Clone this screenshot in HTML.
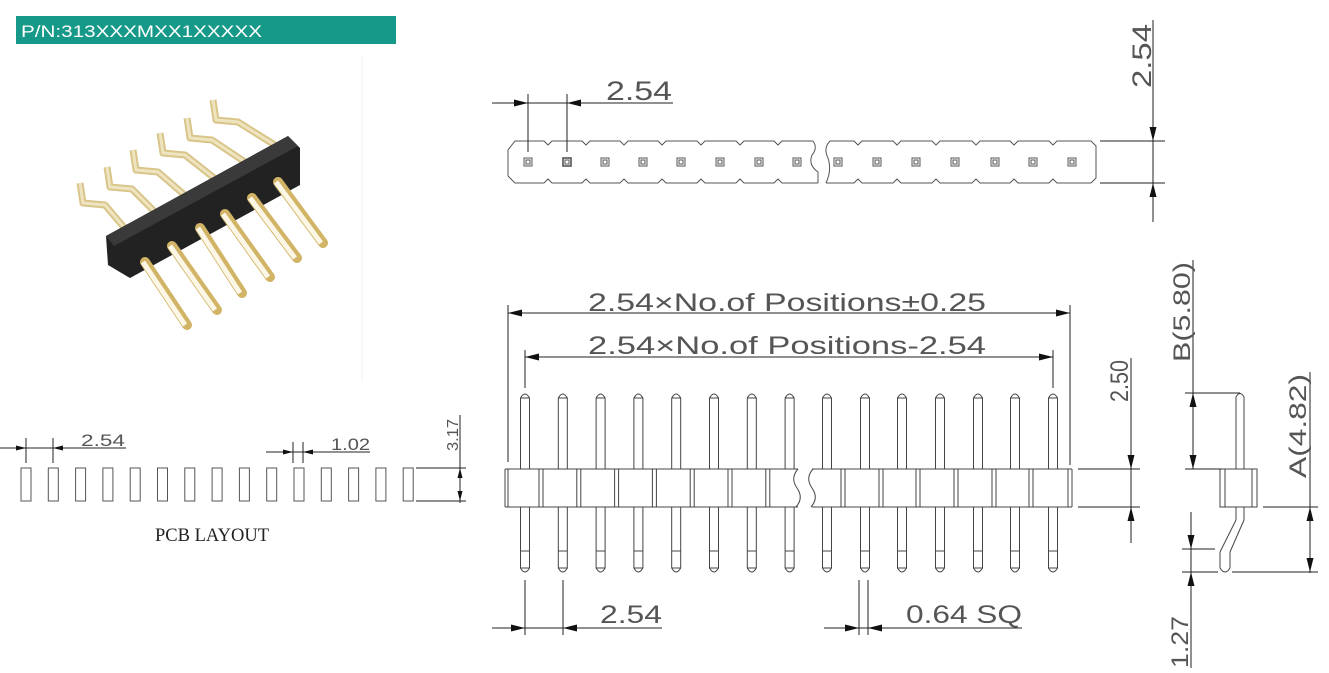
<!DOCTYPE html>
<html><head><meta charset="utf-8"><style>
html,body{margin:0;padding:0;background:#fff;width:1329px;height:673px;overflow:hidden}
svg{display:block}
.t{font-family:"Liberation Sans",sans-serif;fill:#555;font-weight:normal}
</style></head><body>
<svg id="s" width="1329" height="673" viewBox="0 0 1329 673" xmlns="http://www.w3.org/2000/svg">
<rect x="16" y="16" width="380" height="28" fill="#17998a"/>
<text x="21" y="37" font-family="Liberation Sans,sans-serif" font-size="17" fill="#fff" textLength="241" lengthAdjust="spacingAndGlyphs">P/N:313XXXMXX1XXXXX</text>
<line x1="362" y1="55" x2="362" y2="380" stroke="#f0f0f0"/>
<g id="photo"></g>
<g id="top" fill="none" stroke="#555" stroke-width="1"></g>
<g id="front" fill="none" stroke="#444" stroke-width="1"></g>
<g id="pcb" fill="none" stroke="#555" stroke-width="1"></g>
<g id="dims" stroke="#222" stroke-width="1" fill="#111"></g>
<text class="t" x="606" y="100" font-size="27" textLength="66" lengthAdjust="spacingAndGlyphs">2.54</text>
<text class="t" transform="translate(1151,88) rotate(-90)" font-size="27" textLength="64" lengthAdjust="spacingAndGlyphs">2.54</text>
<text class="t" x="588" y="311" font-size="25" textLength="398" lengthAdjust="spacingAndGlyphs">2.54×No.of Positions±0.25</text>
<text class="t" x="588" y="354" font-size="25" textLength="398" lengthAdjust="spacingAndGlyphs">2.54×No.of Positions-2.54</text>
<text class="t" transform="translate(1128,402) rotate(-90)" font-size="25" textLength="42" lengthAdjust="spacingAndGlyphs">2.50</text>
<text class="t" x="600" y="623" font-size="25" textLength="62" lengthAdjust="spacingAndGlyphs">2.54</text>
<text class="t" x="906" y="623" font-size="25" textLength="116" lengthAdjust="spacingAndGlyphs">0.64 SQ</text>
<text class="t" transform="translate(1190,362) rotate(-90)" font-size="24" textLength="100" lengthAdjust="spacingAndGlyphs">B(5.80)</text>
<text class="t" transform="translate(1306,478) rotate(-90)" font-size="24" textLength="104" lengthAdjust="spacingAndGlyphs">A(4.82)</text>
<text class="t" transform="translate(1188,668) rotate(-90)" font-size="24" textLength="52" lengthAdjust="spacingAndGlyphs">1.27</text>
<text class="t" x="81" y="446" font-size="17" textLength="44" lengthAdjust="spacingAndGlyphs">2.54</text>
<text class="t" x="331" y="450" font-size="17" textLength="39" lengthAdjust="spacingAndGlyphs">1.02</text>
<text class="t" transform="translate(458,451) rotate(-90)" font-size="16" textLength="32" lengthAdjust="spacingAndGlyphs">3.17</text>
<text x="155" y="541" font-family="Liberation Serif,serif" font-size="19" fill="#222" textLength="114" lengthAdjust="spacingAndGlyphs">PCB LAYOUT</text>
</svg>
<script>
(function(){
const NS="http://www.w3.org/2000/svg";
function add(g,tag,a){const e=document.createElementNS(NS,tag);for(const k in a)e.setAttribute(k,a[k]);document.getElementById(g).appendChild(e);return e;}
function L(g,x1,y1,x2,y2){add(g,'line',{x1:x1,y1:y1,x2:x2,y2:y2});}
function A(x,y,d,len,w){len=len||14;w=w||3.5;let p;
 if(d=='r')p=[[x,y],[x-len,y-w],[x-len,y+w]];
 if(d=='l')p=[[x,y],[x+len,y-w],[x+len,y+w]];
 if(d=='d')p=[[x,y],[x-w,y-len],[x+w,y-len]];
 if(d=='u')p=[[x,y],[x-w,y+len],[x+w,y+len]];
 add('dims','polygon',{points:p.map(q=>q.join(',')).join(' '),stroke:'none'});}
const ph='photo';
const upTips=[[80,183],[107,167],[133,150],[160,133],[187,118],[213,100]];
upTips.forEach((t,i)=>{const bx=128+i*30,by=232-i*17;
 add(ph,'polyline',{points:`${t[0]},${t[1]} ${t[0]+3},${t[1]+20} ${t[0]+25},${t[1]+22} ${bx},${by}`,fill:'none',stroke:'#d9c58a','stroke-width':7,'stroke-linejoin':'round'});
 add(ph,'polyline',{points:`${t[0]},${t[1]} ${t[0]+3},${t[1]+20} ${t[0]+25},${t[1]+22} ${bx},${by}`,fill:'none',stroke:'#efe4c0','stroke-width':3});});
add(ph,'polygon',{points:'106,236 288,136 300,148 300,185 130,278 108,265',fill:'#222'});
add(ph,'polygon',{points:'106,236 288,136 298,146 114,246',fill:'#3a3a3a'});
const st=[[145,262],[172,246],[200,228],[225,214],[252,198],[278,182]],tps=[[187,325],[217,310],[242,293],[270,277],[297,258],[323,243]];
st.forEach((s,i)=>{const t=tps[i];
 add(ph,'line',{x1:s[0],y1:s[1],x2:t[0],y2:t[1],stroke:'#d2b466','stroke-width':10,'stroke-linecap':'round'});
 add(ph,'line',{x1:s[0]-2,y1:s[1],x2:t[0]-2,y2:t[1],stroke:'#fbf6e6','stroke-width':5});});
const padsT=[528,567,605,643,681,720,759,797,838,877,916,955,995,1033,1072];
let tpath='M508,176 L508,150 L515,141 ';
for(let i=1;i<8;i++){const c=padsT[i];tpath+=`L${c-23},141 L${c-19},145 L${c-15},141 `;}
tpath+='L813,141 ';
add('top','path',{d:tpath});
let bpath='M508,176 L515,183 ';
for(let i=1;i<8;i++){const c=padsT[i];bpath+=`L${c-23},183 L${c-19},179 L${c-15},183 `;}
bpath+='L818,183';add('top','path',{d:bpath});
add('top','path',{d:'M813,141 Q818,148 812,155 Q808,165 818,172 L818,183'});
add('top','path',{d:'M830,141 Q823,148 828,158 Q832,170 826,183'});
let top2='M830,141 ',bot2='M826,183 ';
for(let i=9;i<15;i++){const c=padsT[i];top2+=`L${c-23},141 L${c-19},145 L${c-15},141 `;bot2+=`L${c-23},183 L${c-19},179 L${c-15},183 `;}
top2+='L1091,141 L1096,146 L1096,178 L1091,183';bot2+='L1091,183';
add('top','path',{d:top2});add('top','path',{d:bot2});
padsT.forEach((c,i)=>{add('top','rect',{x:c-4,y:158,width:8,height:8,'stroke-width':i==1?1.6:1});add('top','rect',{x:c-2,y:160,width:4,height:4});});
const pins=[];for(let i=0;i<8;i++)pins.push(525+37.8*i);[827,865,902,940,978,1015,1053].forEach(v=>pins.push(v));
const F='front';
pins.forEach(c=>{
 add(F,'path',{d:`M${c-4.5},469 L${c-4.5},398 Q${c},390 ${c+4.5},398 L${c+4.5},469`});
 add(F,'path',{d:`M${c-4.5},507 L${c-4.5},568 Q${c},576 ${c+4.5},568 L${c+4.5},507`});
 L(F,c-4.5,551,c+4.5,551);
 L(F,c-4.5,398,c+4.5,398);L(F,c-4.5,568,c+4.5,568);
});
L(F,505,469,798,469);L(F,505,507,798,507);L(F,812,469,1072,469);L(F,812,507,1072,507);
L(F,505,469,505,507);L(F,1072,469,1072,507);L(F,508,469,508,507);L(F,1068,469,1068,507);
pins.forEach((c,i)=>{if(i<14&&i!=7){const x=c+14;L(F,x,469,x,507);L(F,x+4,469,x+4,507);}});
add(F,'path',{d:'M798,469 Q790,478 797,488 Q804,498 796,507'});
add(F,'path',{d:'M813,469 Q805,478 812,488 Q819,498 811,507'});
add(F,'path',{d:'M1236,469 L1236,397 Q1240,390 1244,397 L1244,469'});
add(F,'rect',{x:1220,y:469,width:37,height:38});L(F,1225,469,1225,507);L(F,1252,469,1252,507);
add(F,'path',{d:'M1236,507 L1236,520 L1220,552 L1220,568 Q1225,576 1230,568 L1230,552 L1244,520 L1244,507'});
const P='pcb';
for(let i=0;i<15;i++){const c=26+27.3*i;add(P,'rect',{x:c-5,y:468,width:10,height:33});}
const D='dims';
L(D,492,103,673,103);L(D,528,94,528,152);L(D,567,94,567,152);A(528,103,'r');A(567,103,'l');
L(D,1153,20,1153,222);L(D,1100,141,1165,141);L(D,1100,183,1165,183);A(1153,141,'d');A(1153,183,'u');
L(D,508,313,1070,313);L(D,508,305,508,462);L(D,1070,305,1070,465);A(508,313,'l');A(1070,313,'r');
L(D,525,357,1053,357);L(D,525,350,525,388);L(D,1053,350,1053,388);A(525,357,'l');A(1053,357,'r');
L(D,1131,358,1131,543);L(D,1078,469,1140,469);L(D,1078,507,1140,507);A(1131,469,'d');A(1131,507,'u');
L(D,492,628,662,628);L(D,525,580,525,635);L(D,563,580,563,635);A(525,628,'r');A(563,628,'l');
L(D,824,628,1022,628);L(D,859,580,859,635);L(D,868,580,868,635);A(859,628,'r');A(868,628,'l');
L(D,1193,260,1193,469);L(D,1185,393,1240,393);L(D,1185,469,1222,469);A(1193,393,'u');A(1193,469,'d');
L(D,1310,372,1310,573);L(D,1263,507,1318,507);L(D,1232,572,1318,572);A(1310,507,'u');A(1310,572,'d');
L(D,1191,512,1191,668);L(D,1182,549,1215,549);L(D,1182,572,1218,572);A(1191,549,'d');A(1191,572,'u');
L(D,0,448,126,448);L(D,26,438,26,463);L(D,53,438,53,463);A(26,448,'r',10,2.5);A(53,448,'l',10,2.5);
L(D,266,452,370,452);L(D,293,442,293,463);L(D,303,442,303,463);A(293,452,'r',10,2.5);A(303,452,'l',10,2.5);
L(D,460,415,460,503);L(D,416,468,466,468);L(D,416,501,466,501);A(460,468,'u',10,2.5);A(460,501,'d',10,2.5);
})();
</script>
</body></html>
